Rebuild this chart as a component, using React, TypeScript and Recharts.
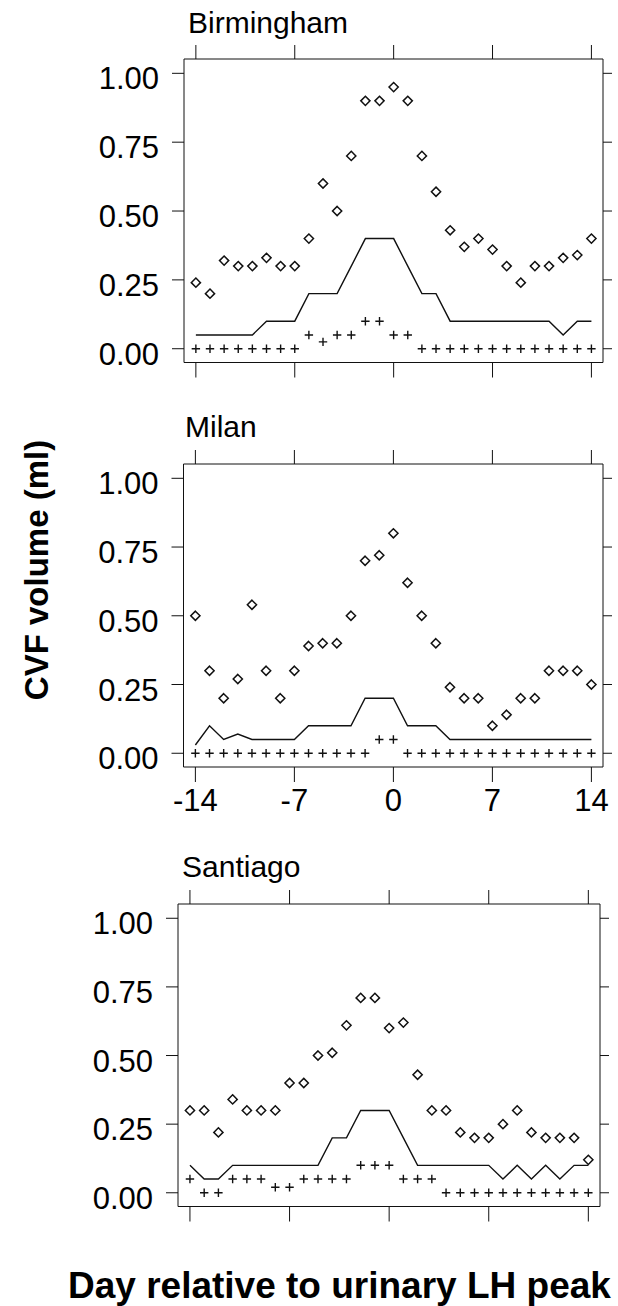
import { ComposedChart, Line, Scatter, XAxis, YAxis } from 'recharts'

// day relative to the urinary LH peak
const days = [-14, -13, -12, -11, -10, -9, -8, -7, -6, -5, -4, -3, -2, -1, 0, 1, 2, 3, 4, 5, 6, 7, 8, 9, 10, 11, 12, 13, 14]

// Birmingham
const birminghamDiamond = [0.24, 0.2, 0.32, 0.3, 0.3, 0.33, 0.3, 0.3, 0.4, 0.6, 0.5, 0.7, 0.9, 0.9, 0.95, 0.9, 0.7, 0.57, 0.43, 0.37, 0.4, 0.36, 0.3, 0.24, 0.3, 0.3, 0.33, 0.34, 0.4]
const birminghamLine = [0.05, 0.05, 0.05, 0.05, 0.05, 0.1, 0.1, 0.1, 0.2, 0.2, 0.2, 0.3, 0.4, 0.4, 0.4, 0.3, 0.2, 0.2, 0.1, 0.1, 0.1, 0.1, 0.1, 0.1, 0.1, 0.1, 0.05, 0.1, 0.1]
const birminghamPlus = [0, 0, 0, 0, 0, 0, 0, 0, 0.05, 0.025, 0.05, 0.05, 0.1, 0.1, 0.05, 0.05, 0, 0, 0, 0, 0, 0, 0, 0, 0, 0, 0, 0, 0]

// Milan
const milanDiamond = [0.5, 0.3, 0.2, 0.27, 0.54, 0.3, 0.2, 0.3, 0.39, 0.4, 0.4, 0.5, 0.7, 0.72, 0.8, 0.62, 0.5, 0.4, 0.24, 0.2, 0.2, 0.1, 0.14, 0.2, 0.2, 0.3, 0.3, 0.3, 0.25]
const milanLine = [0.03, 0.1, 0.05, 0.07, 0.05, 0.05, 0.05, 0.05, 0.1, 0.1, 0.1, 0.1, 0.2, 0.2, 0.2, 0.1, 0.1, 0.1, 0.05, 0.05, 0.05, 0.05, 0.05, 0.05, 0.05, 0.05, 0.05, 0.05, 0.05]
const milanPlus = [0, 0, 0, 0, 0, 0, 0, 0, 0, 0, 0, 0, 0, 0.05, 0.05, 0, 0, 0, 0, 0, 0, 0, 0, 0, 0, 0, 0, 0, 0]

// Santiago
const santiagoDiamond = [0.3, 0.3, 0.22, 0.34, 0.3, 0.3, 0.3, 0.4, 0.4, 0.5, 0.51, 0.61, 0.71, 0.71, 0.6, 0.62, 0.43, 0.3, 0.3, 0.22, 0.2, 0.2, 0.25, 0.3, 0.22, 0.2, 0.2, 0.2, 0.12]
const santiagoLine = [0.1, 0.05, 0.05, 0.1, 0.1, 0.1, 0.1, 0.1, 0.1, 0.1, 0.2, 0.2, 0.3, 0.3, 0.3, 0.2, 0.1, 0.1, 0.1, 0.1, 0.1, 0.1, 0.05, 0.1, 0.05, 0.1, 0.05, 0.1, 0.1]
const santiagoPlus = [0.05, 0, 0, 0.05, 0.05, 0.05, 0.02, 0.02, 0.05, 0.05, 0.05, 0.05, 0.1, 0.1, 0.1, 0.05, 0.05, 0.05, 0, 0, 0, 0, 0, 0, 0, 0, 0, 0, 0]

const xTicks = [-14, -7, 0, 7, 14]
const yTicks = [0, 0.25, 0.5, 0.75, 1]

const FONT = '"Liberation Sans", Arial, Helvetica, sans-serif'
const INK = '#111'
const X_DOMAIN: [number, number] = [-14.84, 14.82]
const Y_DOMAIN: [number, number] = [-0.05, 1.052]

const Diamond = (p: any) => {
  const { cx, cy } = p
  if (cx == null || cy == null) return <g />
  const r = 4.6
  return (
    <path
      d={`M${cx},${cy - r}L${cx + r},${cy}L${cx},${cy + r}L${cx - r},${cy}Z`}
      fill="none"
      stroke={INK}
      strokeWidth={1.5}
    />
  )
}

const Plus = (p: any) => {
  const { cx, cy } = p
  if (cx == null || cy == null) return <g />
  const r = 4.2
  return (
    <path d={`M${cx - r},${cy}H${cx + r}M${cx},${cy - r}V${cy + r}`} stroke={INK} strokeWidth={1.4} fill="none" />
  )
}

const yTick = (p: any) => (
  <text x={p.x} y={p.y + 16} textAnchor="end" fontSize={31} fontFamily={FONT} fill="#000">
    {Number(p.payload.value).toFixed(2)}
  </text>
)

const xTick = (p: any) => (
  <text x={p.x} y={p.y + 28.5} textAnchor="middle" fontSize={31} fontFamily={FONT} fill="#000">
    {p.payload.value}
  </text>
)

const noTick = () => <g />

type Frame = { left: number; right: number; top: number; bottom: number }

const birminghamFrame: Frame = { left: 184, right: 603, top: 59, bottom: 362.5 }
const milanFrame: Frame = { left: 183.5, right: 603, top: 463.5, bottom: 766.5 }
const santiagoFrame: Frame = { left: 178, right: 600, top: 903.5, bottom: 1206 }

function Panel({ frame, diamond, line, plus, xLabels }: {
  frame: Frame
  diamond: number[]
  line: number[]
  plus: number[]
  xLabels?: boolean
}) {
  const data = days.map((d, i) => ({ day: d, diamond: diamond[i], line: line[i], plus: plus[i] }))
  const pad = 60
  const topH = 20
  const bottomH = 50
  const leftW = 80
  const rightW = 15
  const height = frame.bottom - frame.top + pad * 2
  const margin = {
    top: pad - topH,
    bottom: pad - bottomH,
    left: frame.left - leftW,
    right: 618 - frame.right - rightW,
  }

  return (
    <div style={{ position: 'absolute', left: 0, top: frame.top - pad }}>
      <ComposedChart width={618} height={height} data={data} margin={margin}>
        <XAxis
          xAxisId="b" dataKey="day" type="number" domain={X_DOMAIN} ticks={xTicks} interval={0}
          allowDataOverflow orientation="bottom" height={bottomH} stroke={INK}
          tickSize={15} tickMargin={0} tick={xLabels ? xTick : noTick}
        />
        <XAxis
          xAxisId="t" dataKey="day" type="number" domain={X_DOMAIN} ticks={xTicks} interval={0}
          allowDataOverflow orientation="top" height={topH} stroke={INK}
          tickSize={14} tickMargin={0} tick={noTick}
        />
        <YAxis
          yAxisId="l" type="number" domain={Y_DOMAIN} ticks={yTicks} interval={0}
          allowDataOverflow width={leftW} stroke={INK}
          tickSize={12} tickMargin={13} tick={yTick}
        />
        <YAxis
          yAxisId="r" type="number" domain={Y_DOMAIN} ticks={yTicks} interval={0}
          allowDataOverflow orientation="right" width={rightW} stroke={INK}
          tickSize={9} tickMargin={0} tick={noTick}
        />
        <Line
          xAxisId="b" yAxisId="l" type="linear" dataKey="line" stroke={INK} strokeWidth={1.4}
          dot={false} activeDot={false} isAnimationActive={false}
        />
        <Scatter xAxisId="b" yAxisId="l" dataKey="diamond" shape={Diamond} isAnimationActive={false} />
        <Scatter xAxisId="b" yAxisId="l" dataKey="plus" shape={Plus} isAnimationActive={false} />
      </ComposedChart>
    </div>
  )
}

export default function App() {
  return (
    <div style={{ position: 'absolute', left: 0, top: 0, width: 618, height: 1306, background: '#fff', overflow: 'hidden' }}>
      <Panel frame={birminghamFrame} diamond={birminghamDiamond} line={birminghamLine} plus={birminghamPlus} />
      <Panel frame={milanFrame} diamond={milanDiamond} line={milanLine} plus={milanPlus} xLabels />
      <Panel frame={santiagoFrame} diamond={santiagoDiamond} line={santiagoLine} plus={santiagoPlus} />
      <svg width={618} height={1306} style={{ position: 'absolute', left: 0, top: 0, pointerEvents: 'none' }}>
        <g fontFamily={FONT} fill="#000">
          <text x={188} y={33} fontSize={30}>Birmingham</text>
          <text x={185} y={437} fontSize={30}>Milan</text>
          <text x={182} y={877} fontSize={30}>Santiago</text>
          <text x={48} y={570} transform="rotate(-90, 48, 570)" textAnchor="middle" fontSize={33} fontWeight="bold">
            CVF volume (ml)
          </text>
          <text x={68} y={1298} fontSize={37} fontWeight="bold">Day relative to urinary LH peak</text>
        </g>
      </svg>
    </div>
  )
}
